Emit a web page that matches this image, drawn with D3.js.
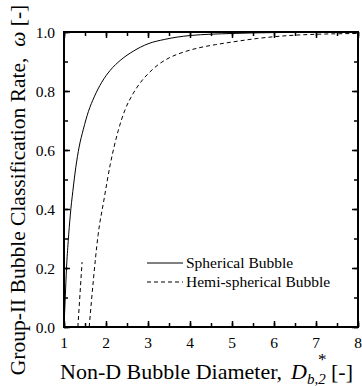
<!DOCTYPE html>
<html>
<head>
<meta charset="utf-8">
<script src="https://cdn.jsdelivr.net/npm/d3@7"></script>
<style>
  html, body { margin: 0; padding: 0; background: #fff; }
  svg { display: block; font-family: "Liberation Serif", "Times New Roman", serif; }
</style>
</head>
<body>
<svg id="chart" width="362" height="386"></svg>
<script>
// Classification rate curves: x = non-dimensional bubble diameter, y = omega
const sphericalX = [1.00, 1.03, 1.06, 1.10, 1.15, 1.21, 1.28, 1.36, 1.46, 1.58, 1.72, 1.90, 2.10, 2.35, 2.65, 3.00, 3.40, 4.00, 5.00, 6.00, 8.00];
const sphericalY = [0.00, 0.10, 0.20, 0.29, 0.38, 0.46, 0.54, 0.61, 0.67, 0.73, 0.78, 0.83, 0.87, 0.905, 0.935, 0.960, 0.975, 0.988, 0.995, 0.998, 1.000];

const hemiX = [1.60, 1.70, 1.81, 1.95, 2.10, 2.29, 2.45, 2.64, 2.80, 3.00, 3.25, 3.50, 3.85, 4.20, 4.60, 5.00, 5.60, 6.60, 8.00];
const hemiY = [0.00, 0.16, 0.31, 0.43, 0.55, 0.665, 0.735, 0.790, 0.825, 0.858, 0.890, 0.912, 0.932, 0.946, 0.957, 0.966, 0.978, 0.990, 0.995];

// short dashed segment near the origin of the hemi-spherical branch
const hemiStubX = [1.33, 1.43];
const hemiStubY = [0.00, 0.22];

const xTicks = [1, 2, 3, 4, 5, 6, 7, 8];
const yTicks = [0.0, 0.2, 0.4, 0.6, 0.8, 1.0];
const legendLabels = ["Spherical Bubble", "Hemi-spherical Bubble"];

const svg = d3.select("#chart");
const mLeft = 64, mRight = 358, mTop = 32, mBottom = 327;

const x = d3.scaleLinear().domain([1, 8]).range([mLeft, mRight]);
const y = d3.scaleLinear().domain([0, 1]).range([mBottom, mTop]);

// inward ticks on all four sides
const minorX = d3.range(1, 8.01, 0.5);
const minorY = d3.range(0, 1.001, 0.1);

function axisGroup(gen, tx, ty) {
  return svg.append("g").attr("transform", `translate(${tx},${ty})`).call(gen);
}
function styleAxis(g) {
  g.select(".domain").remove();
  g.selectAll(".tick line").attr("stroke", "#000").attr("stroke-width", 1.5);
  g.selectAll("text").remove();
}

// minor ticks
styleAxis(axisGroup(d3.axisBottom(x).tickValues(minorX).tickSize(-4), 0, mBottom));
styleAxis(axisGroup(d3.axisTop(x).tickValues(minorX).tickSize(-4), 0, mTop));
styleAxis(axisGroup(d3.axisLeft(y).tickValues(minorY).tickSize(-4), mLeft, 0));
styleAxis(axisGroup(d3.axisRight(y).tickValues(minorY).tickSize(-4), mRight, 0));
// major ticks
styleAxis(axisGroup(d3.axisBottom(x).tickValues(xTicks).tickSize(-6), 0, mBottom));
styleAxis(axisGroup(d3.axisTop(x).tickValues(xTicks).tickSize(-6), 0, mTop));
styleAxis(axisGroup(d3.axisLeft(y).tickValues(yTicks).tickSize(-6), mLeft, 0));
styleAxis(axisGroup(d3.axisRight(y).tickValues(yTicks).tickSize(-6), mRight, 0));

// tick labels
svg.append("g").selectAll("text").data(xTicks).join("text")
  .attr("x", d => x(d)).attr("y", 348)
  .attr("text-anchor", "middle").attr("font-size", 15.5)
  .text(d => d3.format("d")(d));

svg.append("g").selectAll("text").data(yTicks).join("text")
  .attr("x", 55).attr("y", d => y(d) + 5.5)
  .attr("text-anchor", "end").attr("font-size", 15.5)
  .text(d => d3.format(".1f")(d));

// curves
const line = d3.line().x(d => x(d[0])).y(d => y(d[1])).curve(d3.curveMonotoneX);
svg.append("clipPath").attr("id", "plot-clip")
  .append("rect").attr("x", mLeft).attr("y", mTop).attr("width", mRight - mLeft).attr("height", mBottom - mTop);

const curves = svg.append("g").attr("clip-path", "url(#plot-clip)");
curves.append("path")
  .attr("d", line(sphericalX.map((v, i) => [v, sphericalY[i]])))
  .attr("fill", "none").attr("stroke", "#000").attr("stroke-width", 1);
curves.append("path")
  .attr("d", line(hemiX.map((v, i) => [v, hemiY[i]])))
  .attr("fill", "none").attr("stroke", "#000").attr("stroke-width", 1)
  .attr("stroke-dasharray", "4,3");
curves.append("path")
  .attr("d", d3.line().x(d => x(d[0])).y(d => y(d[1]))(hemiStubX.map((v, i) => [v, hemiStubY[i]])))
  .attr("fill", "none").attr("stroke", "#000").attr("stroke-width", 1)
  .attr("stroke-dasharray", "4,3");

// frame
svg.append("rect")
  .attr("x", mLeft).attr("y", mTop).attr("width", mRight - mLeft).attr("height", mBottom - mTop)
  .attr("fill", "none").attr("stroke", "#000").attr("stroke-width", 2);

// legend
const legend = svg.append("g");
legendLabels.forEach((label, i) => {
  const ly = 263 + i * 19;
  legend.append("line")
    .attr("x1", 147).attr("x2", 183).attr("y1", ly).attr("y2", ly)
    .attr("stroke", "#000").attr("stroke-width", 1)
    .attr("stroke-dasharray", i === 0 ? null : "4,3");
  legend.append("text")
    .attr("x", 186).attr("y", ly + 5).attr("font-size", 15.5)
    .text(label);
});

// axis titles
const xt = svg.append("text").attr("y", 379).attr("font-size", 22);
xt.append("tspan").attr("x", 60).text("Non-D Bubble Diameter,");
xt.append("tspan").attr("x", 291).attr("font-style", "italic").text("D");
xt.append("tspan").attr("font-style", "italic").attr("font-size", 15).attr("dy", 5).text("b,2");
xt.append("tspan").attr("x", 318).attr("font-size", 17).attr("dy", -19).text("*");
xt.append("tspan").attr("x", 331).attr("dy", 14).text("[-]");

const yt = svg.append("text")
  .attr("transform", "translate(25,190) rotate(-90)")
  .attr("text-anchor", "middle").attr("font-size", 21.5);
yt.append("tspan").text("Group-II Bubble Classification Rate,\u00a0\u00a0");
yt.append("tspan").attr("font-style", "italic").text("ω");
yt.append("tspan").text("\u00a0[-]");
</script>
</body>
</html>
